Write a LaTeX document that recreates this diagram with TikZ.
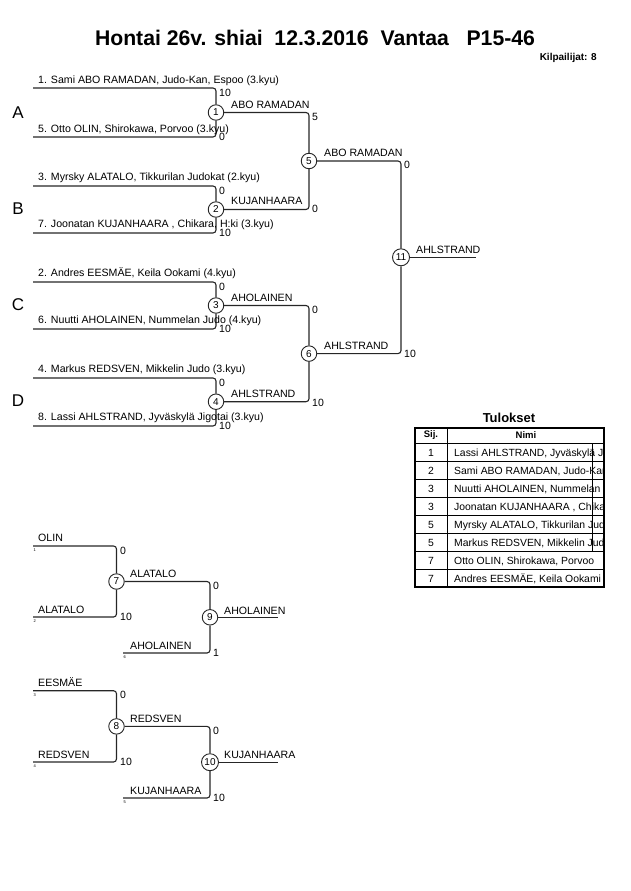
\documentclass[tikz,border=0pt]{standalone}
\usepackage{fontspec}
\setmainfont{Liberation Sans}
\begin{document}
\begin{tikzpicture}[x=1pt,y=-1pt,
  ln/.style={line width=1.1pt, draw=black!85, rounded corners=3pt},
  mc/.style={circle, draw=black!85, line width=0.9pt, fill=white, minimum size=15.5pt, inner sep=0pt, font=\fontsize{10}{10}\selectfont},
  mcb/.style={mc, minimum size=17pt},
  nm/.style={anchor=base west, inner sep=0pt, font=\fontsize{10.6}{12}\selectfont},
  sc/.style={anchor=base west, inner sep=0pt, font=\fontsize{10.5}{12}\selectfont},
  tinynum/.style={anchor=base west, inner sep=0pt, font=\fontsize{4}{4}\selectfont},
  grp/.style={anchor=center, inner sep=0pt, font=\fontsize{17}{17}\selectfont},
  tcell/.style={inner sep=0pt, font=\fontsize{10.4}{12}\selectfont},
  thead/.style={inner sep=0pt, anchor=center, font=\bfseries\fontsize{9.5}{11}\selectfont}
]
\useasboundingbox (0,0) rectangle (630,891);

% ---------- title ----------
\node[anchor=center, inner sep=0pt, font=\bfseries\fontsize{21.2}{23}\selectfont] (title) at (315,38) {Hontai 26v. shiai\ \ 12.3.2016\ \ Vantaa\ \ \ P15-46};
\node[anchor=base east, inner sep=0pt, font=\bfseries\fontsize{10}{12}\selectfont] (kilp) at (597,60.5) {Kilpailijat: 8};

% ---------- main bracket ----------
\coordinate (s1) at (33,88);
\coordinate (s5) at (33,137);
\coordinate (s3) at (33,186);
\coordinate (s7) at (33,233);
\coordinate (s2) at (33,282);
\coordinate (s6) at (33,329);
\coordinate (s4) at (33,378);
\coordinate (s8) at (33,426);
\coordinate (e11) at (476,257.3);

\node[mc] (m1) at (216,112.5) {1};
\node[mc] (m2) at (216,209.5) {2};
\node[mc] (m3) at (216,305.5) {3};
\node[mc] (m4) at (216,401.7) {4};
\node[mc] (m5) at (309,161) {5};
\node[mc] (m6) at (309,353.6) {6};
\node[mcb] (m11) at (401,257.3) {11};

\draw[ln] (s1) -- (s1 -| m1) -- (m1);
\draw[ln] (s5) -- (s5 -| m1) -- (m1);
\draw[ln] (s3) -- (s3 -| m2) -- (m2);
\draw[ln] (s7) -- (s7 -| m2) -- (m2);
\draw[ln] (s2) -- (s2 -| m3) -- (m3);
\draw[ln] (s6) -- (s6 -| m3) -- (m3);
\draw[ln] (s4) -- (s4 -| m4) -- (m4);
\draw[ln] (s8) -- (s8 -| m4) -- (m4);
\draw[ln] (m1) -- (m1 -| m5) -- (m5);
\draw[ln] (m2) -- (m2 -| m5) -- (m5);
\draw[ln] (m3) -- (m3 -| m6) -- (m6);
\draw[ln] (m4) -- (m4 -| m6) -- (m6);
\draw[ln] (m5) -- (m5 -| m11) -- (m11);
\draw[ln] (m6) -- (m6 -| m11) -- (m11);
\draw[ln] (m11) -- (e11);

% names
\node[nm] (n1) at (38,83.5) {1. Sami ABO RAMADAN, Judo-Kan, Espoo (3.kyu)};
\node[nm] (n5) at (38,132) {5. Otto OLIN, Shirokawa, Porvoo (3.kyu)};
\node[nm] (n3) at (38,180.5) {3. Myrsky ALATALO, Tikkurilan Judokat (2.kyu)};
\node[nm] (n7) at (38,227.5) {7. Joonatan KUJANHAARA , Chikara, H:ki (3.kyu)};
\node[nm] (n2) at (38,276) {2. Andres EESMÄE, Keila Ookami (4.kyu)};
\node[nm] (n6) at (38,323.5) {6. Nuutti AHOLAINEN, Nummelan Judo (4.kyu)};
\node[nm] (n4) at (38,372) {4. Markus REDSVEN, Mikkelin Judo (3.kyu)};
\node[nm] (n8) at (38,420) {8. Lassi AHLSTRAND, Jyväskylä Jigotai (3.kyu)};

% group letters
\node[grp] (gA) at (18,113) {A};
\node[grp] (gB) at (18,209) {B};
\node[grp] (gC) at (18,305) {C};
\node[grp] (gD) at (18,401) {D};

% winner labels
\node[nm] (w1) at (231,108) {ABO RAMADAN};
\node[nm] (w2) at (231,204.5) {KUJANHAARA};
\node[nm] (w3) at (231,301) {AHOLAINEN};
\node[nm] (w4) at (231,397) {AHLSTRAND};
\node[nm] (w5) at (324,156.5) {ABO RAMADAN};
\node[nm] (w6) at (324,349) {AHLSTRAND};
\node[nm] (w11) at (416,253) {AHLSTRAND};

% scores
\node[sc] (c1a) at (219,96) {10};
\node[sc] (c1b) at (219,140) {0};
\node[sc] (c2a) at (219,194) {0};
\node[sc] (c2b) at (219,236) {10};
\node[sc] (c3a) at (219,290) {0};
\node[sc] (c3b) at (219,332) {10};
\node[sc] (c4a) at (219,386) {0};
\node[sc] (c4b) at (219,429) {10};
\node[sc] (c5a) at (312,120.5) {5};
\node[sc] (c5b) at (312,212) {0};
\node[sc] (c6a) at (312,313.5) {0};
\node[sc] (c6b) at (312,406.5) {10};
\node[sc] (c11a) at (404,168.5) {0};
\node[sc] (c11b) at (404,357) {10};

% ---------- results table ----------
\node[anchor=base, inner sep=0pt, font=\bfseries\fontsize{13}{15}\selectfont] (tul) at (509,422.5) {Tulokset};
\foreach \yy in {461,479,497,515,533,551,569}{
  \draw[line width=0.8pt] (415,\yy) -- (604,\yy);
}
\draw[line width=0.8pt] (415,443) -- (604,443);
\draw[line width=0.8pt] (447,428) -- (447,587);
\node[thead] (hs) at (431,435.5) {Sij.};
\node[thead] (hn) at (526,435.5) {Nimi};
\begin{scope}
  \clip (447,428) rectangle (603.5,587);
  \foreach \nn [count=\k from 0] in {{Lassi AHLSTRAND, Jyväskylä Jigotai},{Sami ABO RAMADAN, Judo-Kan, Espoo},{Nuutti AHOLAINEN, Nummelan Judo},{Joonatan KUJANHAARA , Chikara, H:ki},{Myrsky ALATALO, Tikkurilan Judokat},{Markus REDSVEN, Mikkelin Judo},{Otto OLIN, Shirokawa, Porvoo},{Andres EESMÄE, Keila Ookami}}{
    \node[tcell, anchor=base west] (tn\k) at (454,456.5+18*\k) {\nn};
  }
\end{scope}
\foreach \rr [count=\k from 0] in {1,2,3,3,5,5,7,7}{
  \node[tcell, anchor=base] (tr\k) at (431,456.5+18*\k) {\rr};
}
\draw[line width=0.7pt] (592,443) -- (592,551);
\draw[line width=1.6pt] (415,428) rectangle (604,587);

% ---------- repechage 1 ----------
\coordinate (r1) at (33,546);
\coordinate (r2) at (33,617);
\coordinate (r6) at (123,653);
\coordinate (e9) at (278,617.3);
\node[mc] (m7) at (116.5,581.5) {7};
\node[mc] (m9) at (210,617.3) {9};
\draw[ln] (r1) -- (r1 -| m7) -- (m7);
\draw[ln] (r2) -- (r2 -| m7) -- (m7);
\draw[ln] (m7) -- (m7 -| m9) -- (m9);
\draw[ln] (r6) -- (r6 -| m9) -- (m9);
\draw[ln] (m9) -- (e9);
\node[nm] (l1) at (38,541.5) {OLIN};
\node[nm] (l2) at (38,613) {ALATALO};
\node[nm] (l6) at (130,649) {AHOLAINEN};
\node[nm] (w7) at (130,577.5) {ALATALO};
\node[nm] (w9) at (224,614) {AHOLAINEN};
\node[sc] (c7a) at (120,554) {0};
\node[sc] (c7b) at (120,620.5) {10};
\node[sc] (c9a) at (213,589.5) {0};
\node[sc] (c9b) at (213,656) {1};
\node[tinynum] (t1) at (33.5,551) {1};
\node[tinynum] (t2) at (33.5,622) {2};
\node[tinynum] (t6) at (123.5,658) {6};

% ---------- repechage 2 ----------
\coordinate (r3) at (33,690.7);
\coordinate (r4) at (33,762);
\coordinate (r5) at (123,798);
\coordinate (e10) at (278,762.2);
\node[mc] (m8) at (116.5,726.4) {8};
\node[mcb] (m10) at (210,762.2) {10};
\draw[ln] (r3) -- (r3 -| m8) -- (m8);
\draw[ln] (r4) -- (r4 -| m8) -- (m8);
\draw[ln] (m8) -- (m8 -| m10) -- (m10);
\draw[ln] (r5) -- (r5 -| m10) -- (m10);
\draw[ln] (m10) -- (e10);
\node[nm] (l3) at (38,686) {EESMÄE};
\node[nm] (l4) at (38,758) {REDSVEN};
\node[nm] (l5) at (130,794) {KUJANHAARA};
\node[nm] (w8) at (130,722.5) {REDSVEN};
\node[nm] (w10) at (224,758) {KUJANHAARA};
\node[sc] (c8a) at (120,698.7) {0};
\node[sc] (c8b) at (120,765.5) {10};
\node[sc] (c10a) at (213,734.4) {0};
\node[sc] (c10b) at (213,801) {10};
\node[tinynum] (t3) at (33.5,696) {3};
\node[tinynum] (t4) at (33.5,767) {4};
\node[tinynum] (t5) at (123.5,803) {5};
\end{tikzpicture}
\end{document}
